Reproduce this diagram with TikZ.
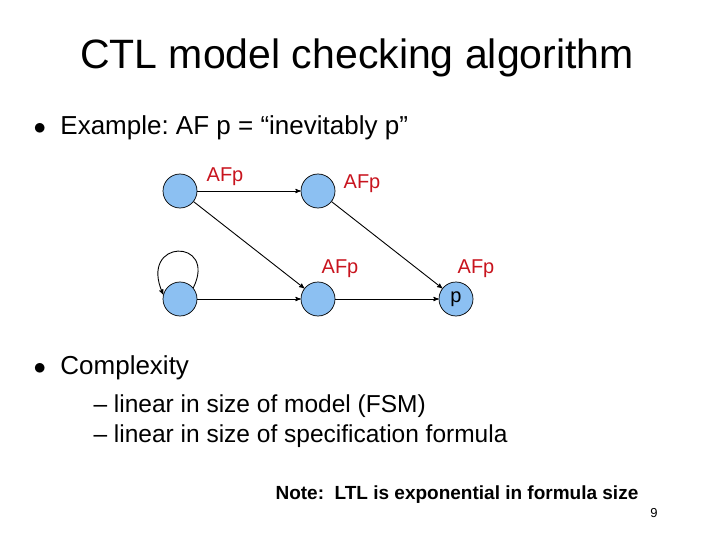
\documentclass[tikz,border=0pt]{standalone}
\usepackage{fontspec}
\setmainfont{Liberation Sans}
\usetikzlibrary{arrows}
\definecolor{statefill}{RGB}{140,192,242}
\definecolor{lblred}{RGB}{200,20,30}
\begin{document}
\begin{tikzpicture}[x=1pt,y=-1pt]
    \tikzset{state/.style={circle,draw=black,fill=statefill,minimum size=34pt,inner sep=0pt,line width=0.7pt},
             lbl/.style={text=lblred,font=\fontsize{20}{20}\selectfont},
             trans/.style={->,>=stealth',line width=0.9pt}}
    \useasboundingbox (0,0) rectangle (720,540);
    \node (title) at (357,58) {\fontsize{41}{41}\selectfont CTL model checking algorithm};
    \node[anchor=west] (ex) at (30,128) {\fontsize{26}{26}\selectfont $\bullet$\ \ Example:\ AF p =\ “inevitably p”};
    % states
    \node[state] (s1) at (180,191) {};
    \node[state] (s2) at (318,191) {};
    \node[state] (s3) at (180,299) {};
    \node[state] (s4) at (318,299) {};
    \node[state] (s5) at (456,299) {\fontsize{20}{20}\selectfont p};
    \node[lbl] (l1) at (225,177) {AFp};
    \node[lbl] (l2) at (362,184) {AFp};
    \node[lbl] (l4) at (340,269) {AFp};
    \node[lbl] (l5) at (476,269) {AFp};
    \draw[trans] (s1) -- (s2);
    \draw[trans] (s1) -- (s4);
    \draw[trans] (s2) -- (s5);
    \draw[trans] (s3) -- (s4);
    \draw[trans] (s4) -- (s5);
    \draw[trans] (s3.40) .. controls (218,238) and (138,238) .. (s3.165);
    % complexity
    \node[anchor=west] (cx) at (30,368) {\fontsize{26}{26}\selectfont $\bullet$\ \ Complexity};
    \node[anchor=west] (c1) at (90,406) {\fontsize{24.5}{24.5}\selectfont -- linear in size of model (FSM)};
    \node[anchor=west] (c2) at (90,436) {\fontsize{24.5}{24.5}\selectfont -- linear in size of specification formula};
    \node[anchor=west] (note) at (272,495) {\fontsize{19}{19}\selectfont\bfseries Note:\ \ LTL is exponential in formula size};
    \node (pg) at (654,513) {\fontsize{13}{13}\selectfont 9};
\end{tikzpicture}
\end{document}
